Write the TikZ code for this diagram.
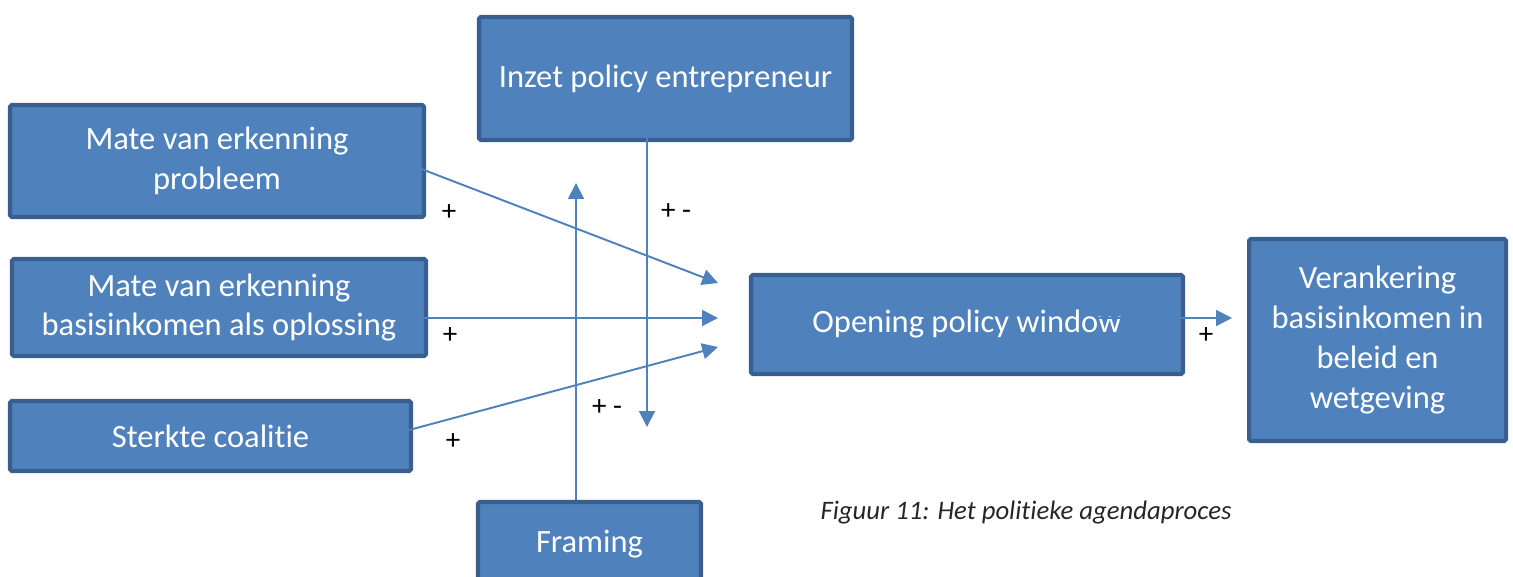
\documentclass[tikz,border=0pt]{standalone}
\usepackage{fontspec}
\setmainfont{Carlito}[Ligatures=NoCommon]
\usetikzlibrary{arrows.meta}
\definecolor{boxfill}{HTML}{4F81BD}
\definecolor{boxline}{HTML}{3A5F8E}
\tikzset{
    factor/.style={
        draw=boxline,
        line width=2.3pt,
        fill=boxfill,
        rounded corners=1pt,
        text=white,
        align=center,
        inner sep=2pt,
        font=\fontsize{18.5}{22.7}\selectfont},
    link/.style={
        draw=boxfill,
        line width=1.1pt,
        -{Triangle[length=9pt,width=9pt]}},
    sign/.style={
        font=\fontsize{16.5}{18}\selectfont}}

\begin{document}
\begin{tikzpicture}
    \useasboundingbox (0,0) rectangle (30.26,-11.52);
    \clip (0,0) rectangle (30.26,-11.52);

    \node[factor,minimum width=7.46cm,minimum height=2.46cm] (inzet) at (13.31,-1.57) {Inzet policy entrepreneur};
    \node[factor,minimum width=8.28cm,minimum height=2.24cm] (prob) at (4.34,-3.22) {Mate van erkenning\\probleem};
    \node[factor,minimum width=8.28cm,minimum height=1.94cm] (opl) at (4.38,-6.15) {Mate van erkenning\\basisinkomen als oplossing};
    \node[factor,minimum width=8.02cm,minimum height=1.40cm] (coal) at (4.21,-8.72) {Sterkte coalitie};
    \node[factor,minimum width=4.46cm,minimum height=1.68cm] (fram) at (11.79,-10.88) {Framing};
    \node[factor,minimum width=8.64cm,minimum height=1.98cm] (window) at (19.34,-6.49) {Opening policy window};
    \node[factor,minimum width=5.14cm,minimum height=4.04cm] (anker) at (27.55,-6.80) {Verankering\\basisinkomen in\\beleid en\\wetgeving};

    % begin- en eindpunten van de pijlen
    \coordinate (prob-out) at (7.96,-3.20);
    \coordinate (prob-in) at (14.36,-5.66);
    \coordinate (opl-out) at (7.92,-6.36);
    \coordinate (opl-in) at (14.36,-6.36);
    \coordinate (coal-out) at (7.66,-8.74);
    \coordinate (coal-in) at (14.36,-6.94);
    \coordinate (fram-out) at (11.52,-10.00);
    \coordinate (fram-in) at (11.52,-3.66);
    \coordinate (inzet-out) at (12.94,-2.64);
    \coordinate (inzet-in) at (12.94,-8.54);
    \coordinate (window-out) at (21.90,-6.36);
    \coordinate (anker-in) at (24.64,-6.36);

    \draw[link] (prob-out) -- (prob-in);
    \draw[link] (opl-out) -- (opl-in);
    \draw[link] (coal-out) -- (coal-in);
    \draw[link] (fram-out) -- (fram-in);
    \draw[link] (inzet-out) -- (inzet-in);
    \draw[link] (window-out) -- (anker-in);

    \node[sign] (s1) at (8.98,-4.26) {+};
    \node[sign] (s2) at (13.52,-4.24) {+ -};
    \node[sign] (s3) at (9.00,-6.72) {+};
    \node[sign] (s4) at (12.14,-8.16) {+ -};
    \node[sign] (s5) at (9.06,-8.84) {+};
    \node[sign] (s6) at (24.12,-6.72) {+};

    \node[font=\fontsize{15.2}{17}\selectfont\itshape,text=black!85] (caption) at (20.52,-10.26) {Figuur 11: Het politieke agendaproces};
\end{tikzpicture}
\end{document}
